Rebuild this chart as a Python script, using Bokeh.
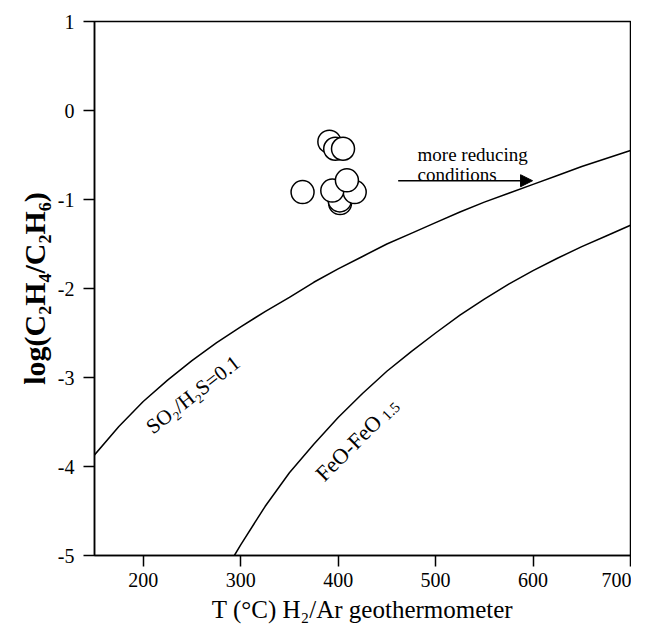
from bokeh.plotting import figure
from bokeh.models import Range1d, Label, Arrow, NormalHead, FixedTicker
from bokeh.embed import file_html
from bokeh.resources import INLINE
import math

# ---- data ----
x_ticks = [200, 300, 400, 500, 600, 700]
y_ticks = [-5, -4, -3, -2, -1, 0, 1]

so2_T = [150, 175, 200, 225, 250, 275, 300, 325, 350, 375, 400, 425, 450, 475, 500,
         525, 550, 575, 600, 625, 650, 675, 700]
so2_log = [-3.87, -3.55, -3.27, -3.03, -2.81, -2.61, -2.43, -2.26, -2.10, -1.93, -1.78,
           -1.64, -1.50, -1.38, -1.26, -1.14, -1.03, -0.93, -0.83, -0.73, -0.63, -0.54, -0.45]

feo_T = [293.5, 300, 325, 350, 375, 400, 425, 450, 475, 500, 525, 550, 575, 600, 625,
         650, 675, 700]
feo_log = [-5.0, -4.88, -4.45, -4.07, -3.75, -3.45, -3.18, -2.93, -2.71, -2.50, -2.30,
           -2.12, -1.95, -1.80, -1.66, -1.53, -1.41, -1.29]

# samples (drawn in this order)
samp_T = [391, 397, 405, 363.5, 402, 401.7, 417, 394, 409]
samp_log = [-0.35, -0.43, -0.43, -0.917, -1.04, -1.01, -0.917, -0.90, -0.785]

FONT = "Liberation Serif"

p = figure(frame_width=536, frame_height=534,
           x_range=Range1d(150, 700), y_range=Range1d(-5, 1),
           output_backend="svg", toolbar_location=None,
           min_border_left=94, min_border_right=1, min_border_top=21,
           min_border_bottom=0)
p.grid.visible = False
p.background_fill_color = "white"
p.border_fill_color = "white"
p.outline_line_color = "black"
p.outline_line_width = 1.5
p.outline_line_alpha = 1.0

p.xaxis.ticker = FixedTicker(ticks=x_ticks)
p.yaxis.ticker = FixedTicker(ticks=y_ticks)
p.xaxis.major_label_overrides = {t: str(t) for t in x_ticks}
p.yaxis.major_label_overrides = {t: str(t) for t in y_ticks}
for ax in (p.xaxis, p.yaxis):
    ax.major_tick_out = 11
    ax.major_tick_in = 0
    ax.minor_tick_out = 0
    ax.minor_tick_in = 0
    ax.axis_line_width = 1.5
    ax.axis_line_color = "black"
    ax.major_tick_line_width = 1.5
    ax.major_tick_line_color = "black"
    ax.major_label_text_font = FONT
    ax.major_label_text_font_size = "20px"
    ax.major_label_text_color = "black"
p.xaxis.major_label_standoff = 6
p.yaxis.major_label_standoff = 9

p.yaxis.axis_label = "log(C₂H₄/C₂H₆)"
p.yaxis.axis_label_text_font = FONT
p.yaxis.axis_label_text_font_size = "30px"
p.yaxis.axis_label_text_font_style = "bold"
p.yaxis.axis_label_text_color = "black"
p.yaxis.axis_label_standoff = 4

p.xaxis.axis_label = "T (°C) H₂/Ar geothermometer"
p.xaxis.axis_label_text_font = FONT
p.xaxis.axis_label_text_font_size = "25px"
p.xaxis.axis_label_text_font_style = "normal"
p.xaxis.axis_label_text_color = "black"
p.xaxis.axis_label_standoff = 6

# curves
p.line(so2_T, so2_log, line_color="black", line_width=1.5)
p.line(feo_T, feo_log, line_color="black", line_width=1.5)

# samples
p.scatter(samp_T, samp_log, marker="circle", size=23, fill_color="white",
          line_color="black", line_width=1.5)

# arrow + text
p.add_layout(Arrow(end=NormalHead(size=12, fill_color="black", line_color="black"),
                   x_start=461.6, y_start=-0.789, x_end=599.5, y_end=-0.789,
                   line_width=1.5, line_color="black"))
p.add_layout(Label(x=481.5, y=-0.49, text="more reducing", text_font=FONT,
                   text_font_size="19px", text_baseline="alphabetic", text_color="black"))
p.add_layout(Label(x=481.5, y=-0.715, text="conditions", text_font=FONT,
                   text_font_size="19px", text_baseline="alphabetic", text_color="black"))

# rotated curve labels
p.add_layout(Label(x=205.7, y=-3.58, text="SO₂/H₂S=0.1", angle=38, angle_units="deg",
                   text_font=FONT, text_font_size="21px", text_baseline="alphabetic",
                   text_align="left", text_color="black"))

px_T = 0.9745   # pixels per degree
px_L = 89.05    # pixels per log unit
th = math.radians(45)
fx, fy = 380.5, -4.12
p.add_layout(Label(x=fx, y=fy, text="FeO-FeO", angle=45, angle_units="deg",
                   text_font=FONT, text_font_size="22px", text_baseline="alphabetic",
                   text_align="left", text_color="black"))
along, down = 88, 4
ox = along * math.cos(th) + down * math.sin(th)
oy = along * math.sin(th) - down * math.cos(th)
p.add_layout(Label(x=fx + ox / px_T, y=fy + oy / px_L, text="1.5", angle=45, angle_units="deg",
                   text_font=FONT, text_font_size="15px", text_baseline="alphabetic",
                   text_align="left", text_color="black"))

open("out.html", "w").write(file_html(p, INLINE))
